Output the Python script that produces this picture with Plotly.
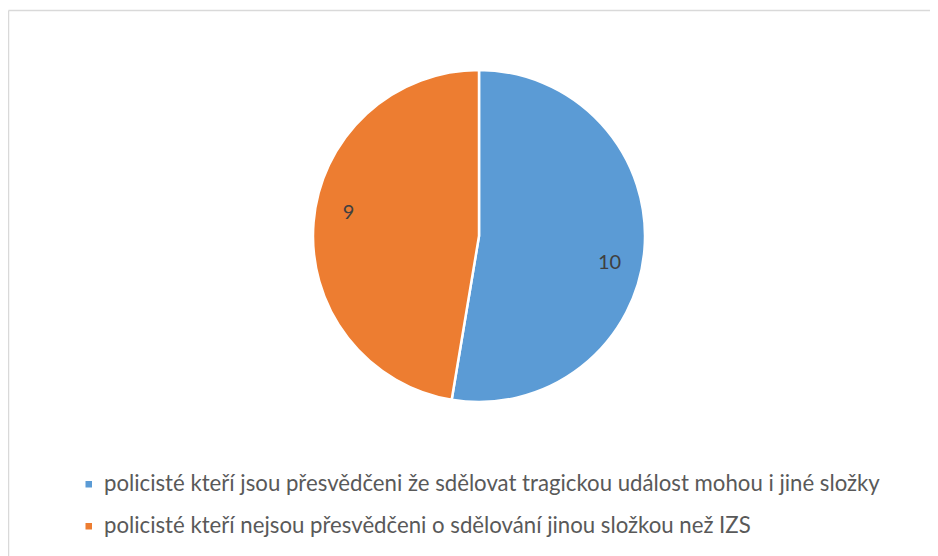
import plotly.graph_objects as go

labels = [
    "policisté kteří jsou přesvědčeni že sdělovat tragickou událost mohou i jiné složky",
    "policisté kteří nejsou přesvědčeni o sdělování jinou složkou než IZS",
]
values = [10, 9]
colors = ["#5B9BD5", "#ED7D31"]

W, H = 938, 556
OFF = 8  # page body margin
cx, cy, r = 479 - OFF, 236 - OFF, 166
dom = dict(x=[(cx - r) / W, (cx + r) / W], y=[(H - cy - r) / H, (H - cy + r) / H])

fig = go.Figure()
fig.add_trace(go.Pie(
    labels=labels, values=values, sort=False, direction="clockwise", rotation=0,
    marker=dict(colors=colors, line=dict(color="white", width=2.5)),
    textinfo="none", showlegend=False, hoverinfo="label+value", domain=dom,
))
# transparent ring used only to place the value labels further out
fig.add_trace(go.Pie(
    labels=labels, values=values, sort=False, direction="clockwise", rotation=6,
    hole=0.6,
    marker=dict(colors=["rgba(0,0,0,0)"] * len(values), line=dict(width=0)),
    textinfo="value", textposition="inside", insidetextorientation="horizontal",
    textfont=dict(family="Lato", size=20, color="#404040"),
    showlegend=False, hoverinfo="skip", domain=dom,
))

bl = dict(color="#D9D9D9", width=1.5)
shapes = [
    dict(type="line", xref="paper", yref="paper", x0=0.5 / W, x1=0.5 / W, y0=-0.05, y1=1 - 2.5 / H, line=bl),
    dict(type="line", xref="paper", yref="paper", x0=0.5 / W, x1=1.05, y0=1 - 2.5 / H, y1=1 - 2.5 / H, line=bl),
]
annotations = []
leg_y = [484 - OFF, 526 - OFF]
for lab, col, y in zip(labels, colors, leg_y):
    shapes.append(dict(type="rect", xref="paper", yref="paper",
                       x0=(85.5 - OFF) / W, x1=(92 - OFF) / W,
                       y0=1 - (y + 3.5) / H, y1=1 - (y - 3) / H,
                       line=dict(width=0), fillcolor=col))
    annotations.append(dict(text=lab, xref="paper", yref="paper", x=(102 - OFF) / W, y=1 - (y - 1.5) / H,
                            xanchor="left", yanchor="middle", showarrow=False,
                            font=dict(family="Lato", size=22.2, color="#595959")))

fig.update_layout(width=W, height=H, margin=dict(l=0, r=0, t=0, b=0),
                  paper_bgcolor="white", plot_bgcolor="white",
                  shapes=shapes, annotations=annotations)
fig.write_html("out.html")
